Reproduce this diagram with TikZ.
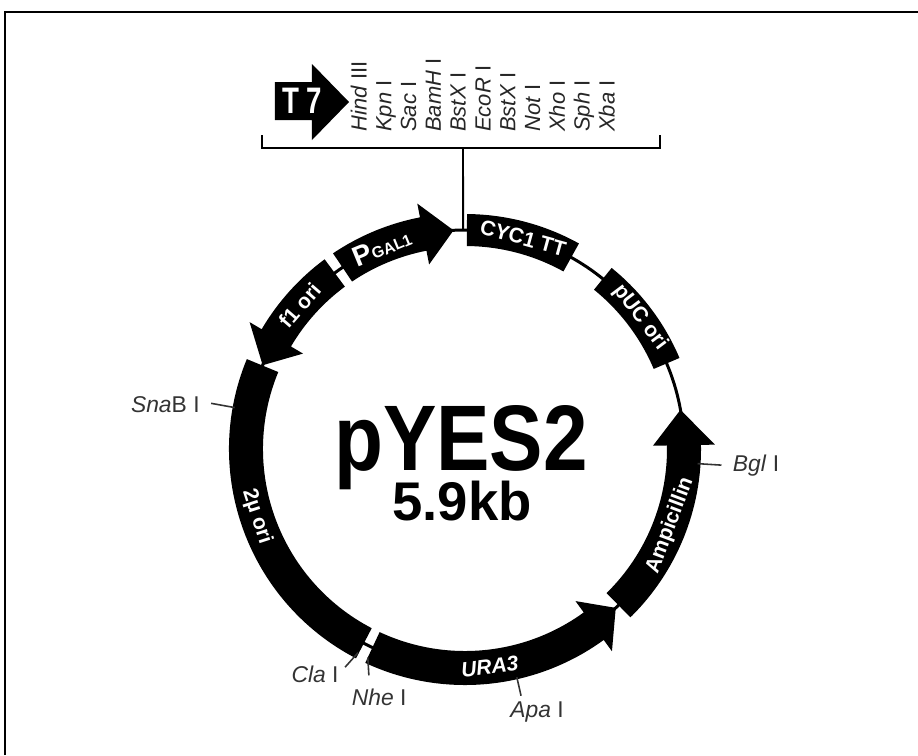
\documentclass[tikz,border=0pt]{standalone}
\usepackage{fontspec}
\setmainfont{Liberation Sans}
\newfontfamily\titlefont[FakeStretch=0.86]{Liberation Sans}
\newfontfamily\narrowfont[FakeStretch=0.75]{Liberation Sans}
\usetikzlibrary{arrows}
\tikzset{
  backbone/.style ={line width=1.7pt},
  band/.style ={fill=black},
  site/.style ={line width=0.9pt, black!80},
  sitelabel/.style ={font=\fontsize{13}{13}\selectfont, text=black!80, inner sep=0},
  bandlabel/.style ={font=\bfseries\fontsize{12}{12}\selectfont, text=white, inner sep=0},
  enzyme/.style ={font=\fontsize{12.5}{12.5}\selectfont, text=black!85,
                  rotate=90, anchor=base west, inner sep=0},
}
% box on the ring: start angle, end angle, outer radius, inner radius
\newcommand{\featbox}[4]{%
  \fill[band] (#1:#3) arc[start angle=#1, end angle=#2, radius=#3]
    -- (#2:#4) arc[start angle=#2, end angle=#1, radius=#4] -- cycle;}
% arrow on the ring: start angle, head base angle, tip angle
\newcommand{\featarrow}[3]{%
  \fill[band] (#1:236) arc[start angle=#1, end angle=#2, radius=236]
    -- (#2:250) -- (#3:219) -- (#2:188) -- (#2:202)
    arc[start angle=#2, end angle=#1, radius=202] -- cycle;}

\begin{document}
\begin{tikzpicture}[x=0.02cm,y=0.02cm]
\useasboundingbox (-465,-306) rectangle (453,449);
% frame
\draw[line width=1.7pt] (-460,-306) -- (-460,437) -- (453,437);

% backbone
\draw[backbone] (0,0) circle[radius=219];

% features
\featarrow{126.5}{149.5}{157.5}            % f1 ori
\featarrow{124}{101}{93}                   % PGAL1
\featbox{89.5}{61}{235}{203}               % CYC1 TT
\featbox{51}{23}{233}{205}                 % pUC ori
\featarrow{-45.5}{1}{10.3}                 % Ampicillin
\featarrow{-115}{-54}{-46.5}               % URA3
\featbox{157.6}{242.5}{236}{202}           % 2mu ori

\node[bandlabel, rotate=49] (f1) at (139:219) {f1 ori};
\node[bandlabel, rotate=22.4] (pgal) at (112.4:219)
  {{\fontsize{16}{16}\selectfont P}{\fontsize{9}{9}\selectfont GAL1}};
\node[bandlabel, rotate=-15.4] (cyc) at (74.6:219) {CYC1 TT};
\node[bandlabel, rotate=-53] (puc) at (36.9:219) {pUC ori};
\node[bandlabel, rotate=69.5] (amp) at (-20.5:219) {Ampicillin};
\node[bandlabel, rotate=6.5] (ura) at (-83.5:219) {\itshape URA3};
\node[bandlabel, rotate=-72] (twomu) at (198:219) {2\textmu\ ori};

% restriction sites
\draw[site] (169.8:234) -- (169.8:258);
\node[sitelabel] (snab) at (171.5:303) {\textit{Sna}B I};
\draw[site] (-3.6:233) -- (-3.6:257);
\node[sitelabel] (bgl) at (-3.3:291.5) {\textit{Bgl} I};
\draw[site] (-117.7:230) -- (-118.8:249);
\node[sitelabel] (cla) at (-123.6:271) {\textit{Cla} I};
\draw[site] (-115:230) -- (-113:246);
\node[sitelabel] (nhe) at (-109.1:262.5) {\textit{Nhe} I};
\draw[site] (-77.2:234) -- (-77.2:253);
\node[sitelabel] (apa) at (-74.7:273) {\textit{Apa} I};

% name and size
\node[font=\titlefont\bfseries\fontsize{53}{53}\selectfont, anchor=base] (name) at (-4,-21) {pYES2};
\node[font=\bfseries\fontsize{31}{31}\selectfont, anchor=base] (size) at (-3,-71) {5.9kb};

% multiple cloning site
\fill (-190,367) -- (-153,367) -- (-153,385) -- (-116,347) -- (-153,309)
  -- (-153,329) -- (-190,329) -- cycle;
\node[font=\narrowfont\bfseries\fontsize{21}{21}\selectfont, text=white] (t7) at (-163,348) {T 7};
\draw[line width=1.1pt] (-203,314) -- (-203,301) -- (195,301) -- (195,314);
\coordinate (mcs) at (-2,301);
\draw[line width=1.1pt] (mcs) -- (90.5:219);
\foreach \enz [count=\i from 0] in {\textit{Hind} III, \textit{Kpn} I, \textit{Sac} I,
    \textit{BamH} I, \textit{BstX} I, \textit{EcoR} I, \textit{BstX} I, \textit{Not} I,
    \textit{Xho} I, \textit{Sph} I, \textit{Xba} I}
  \node[enzyme] (enz\i) at (-98.5+24.8*\i,317) {\enz};
\end{tikzpicture}
\end{document}
